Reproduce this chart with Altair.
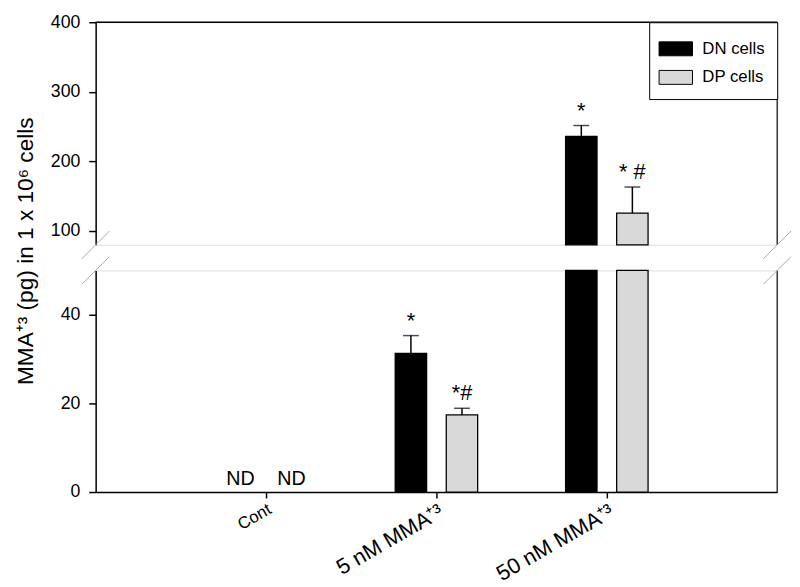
import altair as alt
import pandas as pd

# ---- data ----
categories = ["Cont", "5 nM MMA⁺³", "50 nM MMA⁺³"]
cell_types = ["DN cells", "DP cells"]
dn_mean = [None, 31.3, 236.0]
dn_err = [None, 4.0, 15.5]
dp_mean = [None, 17.4, 125.5]
dp_err = [None, 1.5, 37.6]
dn_note = ["ND", "*", "*"]
dp_note = ["ND", "*#", "* #"]
lower_domain = [0, 50]
upper_domain = [80, 400]
lower_ticks = [0, 20, 40]
upper_ticks = [100, 200, 300, 400]
colors = ["#000000", "#d9d9d9"]

rows = []
for i, c in enumerate(categories):
    rows.append(dict(category=c, cell=cell_types[0], mean=dn_mean[i], err=dn_err[i], note=dn_note[i]))
    rows.append(dict(category=c, cell=cell_types[1], mean=dp_mean[i], err=dp_err[i], note=dp_note[i]))
df = pd.DataFrame(rows)
df["mean"] = df["mean"].astype(float)
df["err"] = df["err"].astype(float)
df["top"] = df["mean"] + df["err"]

upper_df = df[df["mean"] >= upper_domain[0]].copy()
upper_df["base"] = upper_domain[0]
lower_bars = df[df["mean"].notna()].copy()
lower_bars["lo"] = lower_bars["mean"].clip(upper=lower_domain[1])
lower_bars["zero"] = 0
lower_err = df[df["top"] <= lower_domain[1]].copy()
nd_df = df[df["mean"].isna()].copy()
nd_df["zero"] = 0
one = pd.DataFrame({"k": [0]})

W, H1, H2, GAP = 692, 226, 225, 26
FONT = "Liberation Sans"
yt = "MMA⁺³ (pg) in 1 x 10⁶ cells"

xscale = alt.Scale(domain=categories, paddingInner=0, paddingOuter=0.5)
xoff = alt.XOffset("cell:N", sort=cell_types,
                   scale=alt.Scale(domain=cell_types, paddingInner=0.385, paddingOuter=0.861))
cscale = alt.Scale(domain=cell_types, range=colors)

X_top = alt.X("category:N", sort=categories, scale=xscale, axis=None)
X_low = alt.X("category:N", sort=categories, scale=xscale, title=None,
              axis=alt.Axis(labelAngle=330, tickSize=6, tickWidth=1.5, domainWidth=1.5,
                            domainColor="black", tickColor="black", labelPadding=3,
                            labelFontSize={"condition": {"test": "datum.value == 'Cont'", "value": 17}, "value": 22},
                            labelColor="black", labelFont=FONT))

ax_up = alt.Axis(values=upper_ticks, title=yt, titleX=-71, titleY=232,
                 titleAngle=270, titleAlign="center", titleBaseline="middle",
                 titleFontSize=23, titleFontWeight="normal", titleFont=FONT, titleColor="black",
                 labelFontSize=18, labelFont=FONT, labelColor="black", labelPadding=9,
                 tickSize=7, tickWidth=1.5, tickColor="black", domainWidth=1.5, domainColor="black",
                 grid=False)
ax_lo = alt.Axis(values=lower_ticks, title=None,
                 labelFontSize=18, labelFont=FONT, labelColor="black", labelPadding=9,
                 tickSize=7, tickWidth=1.5, tickColor="black", domainWidth=1.5, domainColor="black",
                 grid=False)
ys_up = alt.Scale(domain=upper_domain, nice=False, zero=False)
ys_lo = alt.Scale(domain=lower_domain, nice=False)

legend = alt.Legend(orient="top-right", offset=0, title=None, fillColor="white",
                    strokeColor="black", padding=12, rowPadding=4,
                    labelFontSize=17, labelFont=FONT, labelColor="black", labelOffset=12,
                    symbolType="M-1.2,-0.5H1.2V0.5H-1.2Z", symbolSize=800,
                    symbolStrokeColor="black", symbolStrokeWidth=1)

# ---- upper panel ----
ub = alt.Chart(upper_df).mark_bar(stroke="black", strokeWidth=1.3).encode(
    x=X_top, xOffset=xoff,
    y=alt.Y("mean:Q", scale=ys_up, axis=ax_up), y2="base:Q",
    color=alt.Color("cell:N", scale=cscale, legend=legend))
ue = alt.Chart(upper_df).mark_rule(color="black", strokeWidth=1.5).encode(
    x=X_top, xOffset=xoff, y=alt.Y("mean:Q", scale=ys_up, axis=ax_up), y2="top:Q")
uc = alt.Chart(upper_df).mark_tick(color="black", thickness=1.5, size=16).encode(
    x=X_top, xOffset=xoff, y=alt.Y("top:Q", scale=ys_up, axis=ax_up))
ut = alt.Chart(upper_df).mark_text(baseline="bottom", dy=-3, fontSize=22, font=FONT, color="black").encode(
    x=X_top, xOffset=xoff, y=alt.Y("top:Q", scale=ys_up, axis=ax_up), text="note:N")
u_frame_top = alt.Chart(one).mark_rule(color="black", strokeWidth=1.5).encode(
    x=alt.value(0), x2=alt.value(W), y=alt.value(0))
u_frame_right = alt.Chart(one).mark_rule(color="#333333", strokeWidth=1.5).encode(
    x=alt.value(W), y=alt.value(0), y2=alt.value(H1))
u_brk_l = alt.Chart(one).mark_rule(color="#aaaaaa", strokeWidth=1).encode(
    x=alt.value(-14), x2=alt.value(14), y=alt.value(H1 + 14), y2=alt.value(H1 - 14))
u_brk_r = alt.Chart(one).mark_rule(color="#aaaaaa", strokeWidth=1).encode(
    x=alt.value(W - 14), x2=alt.value(W + 14), y=alt.value(H1 + 14), y2=alt.value(H1 - 14))
upper = alt.layer(ub, ue, uc, ut, u_frame_top, u_frame_right, u_brk_l, u_brk_r).properties(width=W, height=H1)

# ---- lower panel ----
lb = alt.Chart(lower_bars).mark_bar(stroke="black", strokeWidth=1.3).encode(
    x=X_low, xOffset=xoff,
    y=alt.Y("lo:Q", scale=ys_lo, axis=ax_lo), y2="zero:Q",
    color=alt.Color("cell:N", scale=cscale, legend=None))
le = alt.Chart(lower_err).mark_rule(color="black", strokeWidth=1.5).encode(
    x=X_low, xOffset=xoff, y=alt.Y("mean:Q", scale=ys_lo, axis=ax_lo), y2="top:Q")
lc = alt.Chart(lower_err).mark_tick(color="black", thickness=1.5, size=16).encode(
    x=X_low, xOffset=xoff, y=alt.Y("top:Q", scale=ys_lo, axis=ax_lo))
lt = alt.Chart(lower_err).mark_text(baseline="bottom", dy=-3, fontSize=22, font=FONT, color="black").encode(
    x=X_low, xOffset=xoff, y=alt.Y("top:Q", scale=ys_lo, axis=ax_lo), text="note:N")
lnd = alt.Chart(nd_df).mark_text(baseline="bottom", dy=-3, fontSize=20, font=FONT, color="black").encode(
    x=X_low, xOffset=xoff, y=alt.Y("zero:Q", scale=ys_lo, axis=ax_lo), text="note:N")
l_frame_right = alt.Chart(one).mark_rule(color="#333333", strokeWidth=1.5).encode(
    x=alt.value(W), y=alt.value(0), y2=alt.value(H2))
l_brk_l = alt.Chart(one).mark_rule(color="#aaaaaa", strokeWidth=1).encode(
    x=alt.value(-14), x2=alt.value(14), y=alt.value(14), y2=alt.value(-14))
l_brk_r = alt.Chart(one).mark_rule(color="#aaaaaa", strokeWidth=1).encode(
    x=alt.value(W - 14), x2=alt.value(W + 14), y=alt.value(14), y2=alt.value(-14))
lower = alt.layer(lb, le, lc, lt, lnd, l_frame_right, l_brk_l, l_brk_r).properties(width=W, height=H2)

chart = alt.vconcat(upper, lower, spacing=GAP, bounds="flush").resolve_legend(
    color="independent").properties(
    padding={"left": 6, "top": 0, "right": 0, "bottom": 0}
).configure_view(stroke=None).configure(background="white")

chart.save("out.html", embed_options={"renderer": "svg", "actions": False})
